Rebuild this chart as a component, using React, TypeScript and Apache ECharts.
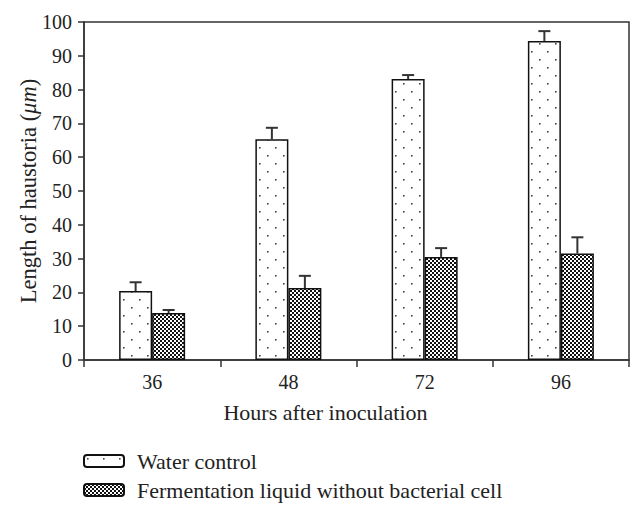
import React, { useEffect, useRef } from "react";
import * as echarts from "echarts";

const categories = ["36", "48", "72", "96"];
const waterControl = [20.4, 65.3, 83.1, 94.4];
const waterControlErr = [2.6, 3.4, 1.2, 2.9];
const fermentation = [13.9, 21.3, 30.5, 31.5];
const fermentationErr = [0.9, 3.6, 2.6, 4.8];
const seriesNames = ["Water control", "Fermentation liquid without bacterial cell"];

const FONT = "'Liberation Serif', 'Times New Roman', serif";

function dotPattern(): HTMLCanvasElement {
  const c = document.createElement("canvas");
  c.width = 16;
  c.height = 16;
  const ctx = c.getContext("2d")!;
  ctx.fillStyle = "#ffffff";
  ctx.fillRect(0, 0, 16, 16);
  ctx.fillStyle = "#444444";
  ctx.fillRect(3, 3, 1.6, 1.6);
  ctx.fillRect(11, 11, 1.6, 1.6);
  return c;
}

function checkPattern(): HTMLCanvasElement {
  const c = document.createElement("canvas");
  c.width = 4;
  c.height = 4;
  const ctx = c.getContext("2d")!;
  ctx.fillStyle = "#ffffff";
  ctx.fillRect(0, 0, 4, 4);
  ctx.fillStyle = "#111111";
  ctx.fillRect(0, 0, 2, 2);
  ctx.fillRect(2, 2, 2, 2);
  return c;
}

export default function App() {
  const ref = useRef<HTMLDivElement>(null);
  useEffect(() => {
    if (!ref.current) return;
    const chart = echarts.init(ref.current, null, { renderer: "svg" });
    const BAR_W = 33;
    const errData: number[][] = [];
    waterControl.forEach((v, i) => errData.push([i, v, v + waterControlErr[i], -1]));
    fermentation.forEach((v, i) => errData.push([i, v, v + fermentationErr[i], 1]));

    const legendCommon = {
      orient: "vertical",
      left: 78,
      itemWidth: 40,
      itemHeight: 12,
      textStyle: { fontFamily: FONT, fontSize: 22, color: "#222", padding: [0, 0, 0, 8] },
    };

    chart.setOption({
      animation: false,
      backgroundColor: "#ffffff",
      textStyle: { fontFamily: FONT, color: "#222" },
      grid: {
        left: 84,
        right: 14,
        top: 22,
        bottom: 154,
        show: true,
        borderColor: "#333",
        borderWidth: 1.5,
      },
      legend: [
        { ...legendCommon, top: 445, data: [seriesNames[0]] },
        { ...legendCommon, top: 474, data: [seriesNames[1]] },
      ],
      xAxis: {
        type: "category",
        data: categories,
        name: "Hours after inoculation",
        nameLocation: "middle",
        nameGap: 41,
        nameTextStyle: { fontFamily: FONT, fontSize: 22, color: "#222", padding: [0, 62, 0, 0] },
        axisLine: { lineStyle: { color: "#333", width: 1.5 } },
        axisTick: { show: true, length: 7, lineStyle: { color: "#333", width: 1.5 } },
        axisLabel: { fontFamily: FONT, fontSize: 20, color: "#222", margin: 12 },
      },
      yAxis: {
        type: "value",
        min: 0,
        max: 100,
        interval: 10,
        name: "{a|Length of haustoria (}{b|μm}{a|)}",
        nameLocation: "middle",
        nameGap: 44,
        nameMoveOverlap: false,
        nameTextStyle: {
          rich: {
            a: { fontFamily: FONT, fontSize: 22.5, color: "#222" },
            b: { fontFamily: FONT, fontSize: 22.5, color: "#222", fontStyle: "italic" },
          },
        },
        axisLine: { show: true, lineStyle: { color: "#333", width: 1.5 } },
        axisTick: { show: true, length: 6, lineStyle: { color: "#333", width: 1.5 } },
        axisLabel: { fontFamily: FONT, fontSize: 20, color: "#222", margin: 12 },
        splitLine: { show: false },
      },
      series: [
        {
          name: seriesNames[0],
          type: "bar",
          data: waterControl,
          barWidth: BAR_W,
          barGap: "0%",
          itemStyle: {
            color: { image: dotPattern(), repeat: "repeat" },
            borderColor: "#111",
            borderWidth: 1.5,
          },
        },
        {
          name: seriesNames[1],
          type: "bar",
          data: fermentation,
          barWidth: BAR_W,
          barGap: "0%",
          itemStyle: {
            color: { image: checkPattern(), repeat: "repeat" },
            borderColor: "#111",
            borderWidth: 1.5,
          },
        },
        {
          type: "custom",
          data: errData,
          z: 10,
          renderItem: (params: any, api: any) => {
            const cat = api.value(0);
            const lo = api.coord([cat, api.value(1)]);
            const hi = api.coord([cat, api.value(2)]);
            const x = lo[0] + api.value(3) * (BAR_W / 2);
            const half = 6;
            return {
              type: "group",
              children: [
                {
                  type: "line",
                  shape: { x1: x, y1: lo[1], x2: x, y2: hi[1] },
                  style: { stroke: "#333", lineWidth: 2 },
                },
                {
                  type: "line",
                  shape: { x1: x - half, y1: hi[1], x2: x + half, y2: hi[1] },
                  style: { stroke: "#333", lineWidth: 2 },
                },
              ],
            };
          },
        },
      ],
    });
    return () => chart.dispose();
  }, []);
  return <div ref={ref} style={{ width: 643, height: 514, position: "absolute", left: 0, top: 0 }} />;
}
